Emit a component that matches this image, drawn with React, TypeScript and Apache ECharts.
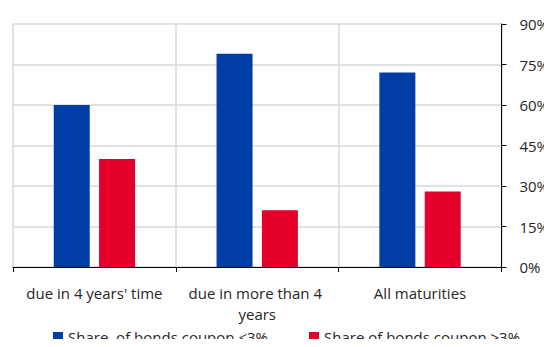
import React, { useEffect, useRef } from "react";
import * as echarts from "echarts";

// Maturity buckets and the share of bonds by coupon level (%)
const categories = ["due in 4 years' time", "due in more than 4 years", "All maturities"];
const lowCouponShare = [60, 79, 72];
const highCouponShare = [40, 21, 28];
const seriesNames = ["Share  of bonds coupon ≤3%", "Share of bonds coupon >3%"];
const yTicks = { min: 0, max: 90, step: 15 };

const FONT = "'Open Sans', 'Liberation Sans', sans-serif";
const TEXT = "#262626";
const BLUE = "#003DA5";
const RED = "#E4002B";
const FS = 15;

export default function App() {
  const ref = useRef<HTMLDivElement>(null);

  useEffect(() => {
    if (!ref.current) return;
    const chart = echarts.init(ref.current, undefined, { renderer: "svg" });
    const legendText = { fontFamily: FONT, fontSize: FS, lineHeight: 15, color: TEXT };
    chart.setOption({
      animation: false,
      backgroundColor: "#ffffff",
      textStyle: { fontFamily: FONT },
      grid: { left: 13, right: 49, top: 24, bottom: 80, containLabel: false },
      legend: [
        {
          data: [seriesNames[0]],
          left: 53,
          top: 329,
          padding: 0,
          itemWidth: 10,
          itemHeight: 9,
          icon: "rect",
          textStyle: legendText,
        },
        {
          data: [seriesNames[1]],
          left: 309,
          top: 329,
          padding: 0,
          itemWidth: 10,
          itemHeight: 9,
          icon: "rect",
          textStyle: legendText,
        },
      ],
      xAxis: {
        type: "category",
        data: categories,
        boundaryGap: true,
        axisLine: { show: true, lineStyle: { color: "#000000", width: 1 } },
        axisTick: { show: true, alignWithLabel: false, interval: 0, length: 5, lineStyle: { color: "#000000" } },
        splitLine: { show: true, interval: 0, lineStyle: { color: "#d9d9d9", width: 1.5 } },
        axisLabel: {
          interval: 0,
          margin: 15,
          fontFamily: FONT,
          fontSize: FS,
          color: TEXT,
          lineHeight: 21,
          width: 155,
          overflow: "break",
        },
      },
      yAxis: {
        type: "value",
        position: "right",
        min: yTicks.min,
        max: yTicks.max,
        interval: yTicks.step,
        axisLine: { show: true, lineStyle: { color: "#000000", width: 1 } },
        axisTick: { show: true, inside: false, length: 5, lineStyle: { color: "#000000" } },
        splitLine: { show: true, lineStyle: { color: "#d9d9d9", width: 1.5 } },
        axisLabel: {
          margin: 18,
          fontFamily: FONT,
          fontSize: FS,
          color: TEXT,
          formatter: "{value}%",
        },
      },
      series: [
        {
          name: seriesNames[0],
          type: "bar",
          data: lowCouponShare,
          barWidth: 36,
          barGap: "26%",
          itemStyle: { color: BLUE },
        },
        {
          name: seriesNames[1],
          type: "bar",
          data: highCouponShare,
          barWidth: 36,
          barGap: "26%",
          itemStyle: { color: RED },
        },
      ],
    });
    return () => chart.dispose();
  }, []);

  return <div ref={ref} style={{ width: 552, height: 347, margin: -8 }} />;
}
